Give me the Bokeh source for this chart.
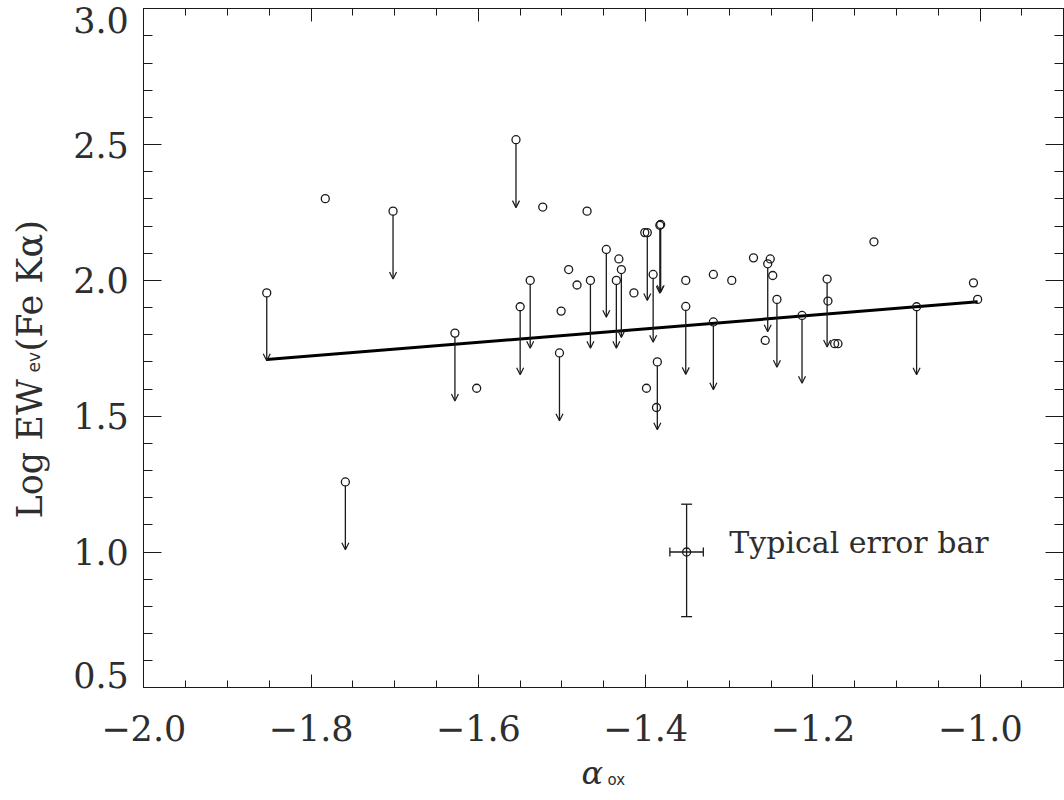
import numpy as np
from math import pi
from bokeh.plotting import figure
from bokeh.models import (ColumnDataSource, Range1d, LinearAxis, FixedTicker,
                          CustomJSTickFormatter, Arrow, OpenHead, Whisker, TeeHead, Label)
from bokeh.embed import file_html
from bokeh.resources import INLINE

# ---------------- data ----------------
# detections (open circles, no arrow)
DET_X = [-1.783, -1.602, -1.523, -1.501, -1.492, -1.482, -1.470, -1.432, -1.414, -1.401,
         -1.399, -1.387, -1.352, -1.319, -1.297, -1.271, -1.257, -1.251, -1.248, -1.182,
         -1.174, -1.170, -1.127, -1.008, -1.003]
DET_Y = [2.301, 1.603, 2.270, 1.887, 2.040, 1.983, 2.255, 2.079, 1.954, 2.176,
         1.603, 1.532, 2.000, 2.022, 2.000, 2.083, 1.779, 2.079, 2.018, 1.924,
         1.767, 1.767, 2.142, 1.991, 1.930]

# upper limits (open circles with downward arrows)
UL_X = [-1.853, -1.759, -1.702, -1.628, -1.555, -1.550, -1.538, -1.503, -1.466, -1.447,
        -1.435, -1.429, -1.398, -1.391, -1.386, -1.383, -1.382, -1.352, -1.319, -1.254,
        -1.243, -1.213, -1.183, -1.076]
UL_Y = [1.954, 1.258, 2.255, 1.806, 2.518, 1.903, 2.000, 1.733, 2.000, 2.114,
        2.000, 2.040, 2.176, 2.022, 1.700, 2.203, 2.206, 1.904, 1.847, 2.061,
        1.930, 1.871, 2.005, 1.903]
ARROW_LEN = 0.25

# regression line end points
LINE_X = [-1.853, -1.003]
LINE_Y = [1.709, 1.921]

# typical error bar
ERR_X = [-1.351]
ERR_Y = [1.0]
ERR_X_LO = [-1.371]
ERR_X_HI = [-1.331]
ERR_Y_LO = [0.762]
ERR_Y_HI = [1.176]

# axes
X_MIN, X_MAX = -2.0, -0.9
Y_MIN, Y_MAX = 0.5, 3.0
X_TICKS = [-2.0, -1.8, -1.6, -1.4, -1.2, -1.0]
X_TICK_LABELS = ["\u22122.0", "\u22121.8", "\u22121.6", "\u22121.4", "\u22121.2", "\u22121.0"]
Y_TICKS = [0.5, 1.0, 1.5, 2.0, 2.5, 3.0]
Y_TICK_LABELS = ["0.5", "1.0", "1.5", "2.0", "2.5", "3.0"]
X_MINOR = [round(v, 3) for v in np.arange(-2.0, -0.899, 0.05)]
Y_MINOR = [round(v, 3) for v in np.arange(0.5, 3.001, 0.1)]

# ---------------- layout ----------------
W, H = 1064, 800
BOX_L, BOX_R, BOX_T, BOX_B = 143.3, 1063.3, 8.3, 687.3   # plot box, in canvas pixels
SX = (BOX_R - BOX_L) / (X_MAX - X_MIN)
SY = (BOX_B - BOX_T) / (Y_MAX - Y_MIN)
XR = Range1d(X_MIN - BOX_L / SX, X_MAX + (W - BOX_R) / SX)
YR = Range1d(Y_MIN - (H - BOX_B) / SY, Y_MAX + BOX_T / SY)

SERIF = "DejaVu Serif"
SANS = "DejaVu Sans"
INK = "#1a1a1a"
TXT = "#2e2e2e"
BL = 0.37   # observed shift of the glyph baseline below a label's anchor, in em

p = figure(width=W, height=H, output_backend="svg", toolbar_location=None,
           x_range=XR, y_range=YR, x_axis_location=None, y_axis_location=None,
           min_border_left=0, min_border_right=0, min_border_top=0, min_border_bottom=0)
p.xgrid.visible = False
p.ygrid.visible = False
p.background_fill_color = "white"
p.border_fill_color = "white"
p.outline_line_color = None

LABEL_CODE = """
let best = -1, bd = 1e9;
for (let i = 0; i < tvals.length; i++) {
  const d = Math.abs(tvals[i] - tick);
  if (d < bd) { bd = d; best = i; }
}
if (best < 0 || bd > 1e-6 || hidden.includes(best)) return "";
return tlabels[best];
"""

def make_axis(ticks, minor, loc, bounds, tin, minin):
    ax = LinearAxis(ticker=FixedTicker(ticks=ticks, minor_ticks=minor),
                    fixed_location=loc, bounds=bounds)
    ax.major_tick_in = tin
    ax.major_tick_out = 0
    ax.minor_tick_in = minin
    ax.minor_tick_out = 0
    ax.axis_line_color = INK
    ax.major_tick_line_color = INK
    ax.minor_tick_line_color = INK
    ax.axis_line_width = 1
    ax.major_tick_line_width = 1
    ax.minor_tick_line_width = 1
    return ax

def hide_labels(ax):
    ax.formatter = CustomJSTickFormatter(code="return '';")
    ax.major_label_text_font_size = "0px"
    ax.major_label_standoff = 0

# bottom axis
xb = make_axis(X_TICKS, X_MINOR, Y_MIN, (X_MIN, X_MAX), 13, 7)
xb.formatter = CustomJSTickFormatter(args=dict(tvals=X_TICKS, tlabels=X_TICK_LABELS, hidden=[]),
                                     code=LABEL_CODE)
xb.major_label_text_font = SERIF
xb.major_label_text_font_size = "35px"
xb.major_label_text_color = TXT
xb.major_label_standoff = 27
p.add_layout(xb, "below")

# left axis
yl = make_axis(Y_TICKS, Y_MINOR, X_MIN, (Y_MIN, Y_MAX), 18, 9)
yl.formatter = CustomJSTickFormatter(args=dict(tvals=Y_TICKS, tlabels=Y_TICK_LABELS,
                                               hidden=[0, len(Y_TICKS) - 1]),
                                     code=LABEL_CODE)
yl.major_label_text_font = SERIF
yl.major_label_text_font_size = "35px"
yl.major_label_text_color = TXT
yl.major_label_standoff = 15
p.add_layout(yl, "left")

# top and right mirrored axes
xt = make_axis(X_TICKS, X_MINOR, Y_MAX, (X_MIN, X_MAX), 13, 7)
hide_labels(xt)
p.add_layout(xt, "above")
yr = make_axis(Y_TICKS, Y_MINOR, X_MAX, (Y_MIN, Y_MAX), 18, 9)
hide_labels(yr)
p.add_layout(yr, "right")

# end tick labels of the y axis, kept inside the box height as in the original
p.add_layout(Label(x=BOX_L - 15, y=Y_TICKS[-1], x_units="screen", y_units="data",
                   text=Y_TICK_LABELS[-1], text_align="right", text_baseline="top",
                   text_font=SERIF, text_font_size="35px", text_color=TXT, y_offset=2))
p.add_layout(Label(x=BOX_L - 15, y=Y_TICKS[0], x_units="screen", y_units="data",
                   text=Y_TICK_LABELS[0], text_align="right", text_baseline="alphabetic",
                   text_font=SERIF, text_font_size="35px", text_color=TXT,
                   y_offset=BL * 35))

# axis titles (screen units: from canvas left / canvas bottom)
p.add_layout(Label(x=42 - BL * 35, y=H - 518, x_units="screen", y_units="screen", angle=pi / 2,
                   text="Log EW", text_align="left", text_baseline="alphabetic",
                   text_font=SERIF, text_font_size="35px", text_color=TXT))
p.add_layout(Label(x=40 - BL * 17, y=H - 372, x_units="screen", y_units="screen", angle=pi / 2,
                   text="ev", text_align="left", text_baseline="alphabetic",
                   text_font=SANS, text_font_size="17px", text_color=TXT))
p.add_layout(Label(x=42 - BL * 35, y=H - 351, x_units="screen", y_units="screen", angle=pi / 2,
                   text="(Fe K\u03b1)", text_align="left", text_baseline="alphabetic",
                   text_font=SERIF, text_font_size="35px", text_color=TXT))
p.add_layout(Label(x=581, y=H - 784 + BL * 32, x_units="screen", y_units="screen",
                   text="\u03b1", text_align="left", text_baseline="alphabetic",
                   text_font=SERIF, text_font_style="italic", text_font_size="32px",
                   text_color=TXT))
p.add_layout(Label(x=607, y=H - 785 + BL * 15, x_units="screen", y_units="screen",
                   text="ox", text_align="left", text_baseline="alphabetic",
                   text_font=SANS, text_font_size="15px", text_color=TXT))

# regression line
p.line(LINE_X, LINE_Y, line_color="black", line_width=3)

# upper-limit arrows
CIRCLE_GAP = 0.014
ul_src = ColumnDataSource(dict(
    x=UL_X, y=UL_Y,
    y0=[v - CIRCLE_GAP for v in UL_Y],
    y1=[v - ARROW_LEN for v in UL_Y]))
p.add_layout(Arrow(end=OpenHead(size=7, line_color=INK, line_width=1.2),
                   x_start="x", y_start="y0", x_end="x", y_end="y1",
                   line_color=INK, line_width=1.3, source=ul_src))

# points
p.scatter(DET_X, DET_Y, marker="circle", size=8, fill_color=None,
          line_color=INK, line_width=1.3)
p.scatter("x", "y", source=ul_src, marker="circle", size=8, fill_color=None,
          line_color=INK, line_width=1.3)

# typical error bar
err_src = ColumnDataSource(dict(x=ERR_X, y=ERR_Y, xlo=ERR_X_LO, xhi=ERR_X_HI,
                                ylo=ERR_Y_LO, yhi=ERR_Y_HI))
p.add_layout(Whisker(base="x", lower="ylo", upper="yhi", dimension="height", source=err_src,
                     line_color=INK, line_width=1.3,
                     lower_head=TeeHead(size=11, line_color=INK, line_width=1.3),
                     upper_head=TeeHead(size=11, line_color=INK, line_width=1.3)))
p.add_layout(Whisker(base="y", lower="xlo", upper="xhi", dimension="width", source=err_src,
                     line_color=INK, line_width=1.3,
                     lower_head=TeeHead(size=9, line_color=INK, line_width=1.3),
                     upper_head=TeeHead(size=9, line_color=INK, line_width=1.3)))
p.scatter("x", "y", source=err_src, marker="circle", size=8, fill_color=None,
          line_color=INK, line_width=1.3)
p.add_layout(Label(x=-1.300, y=0.995, text="Typical error bar", text_align="left",
                   text_baseline="alphabetic", text_font=SERIF, text_font_size="30px",
                   text_color=TXT, y_offset=BL * 30))

open("out.html", "w").write(file_html(p, INLINE))
